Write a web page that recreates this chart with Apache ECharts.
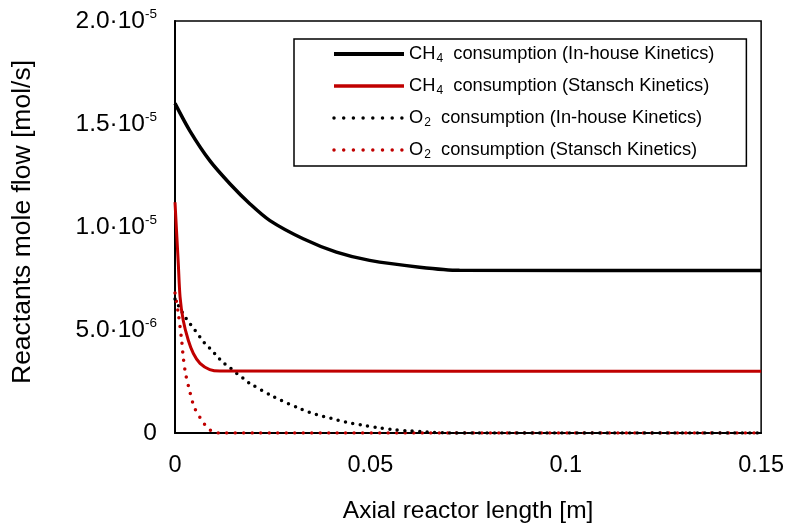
<!DOCTYPE html>
<html>
<head>
<meta charset="utf-8">
<script src="https://cdn.jsdelivr.net/npm/echarts@6/dist/echarts.min.js"></script>
<style>
  html, body { margin: 0; padding: 0; background: #fff; }
  #chart { width: 787px; height: 530px; }
</style>
</head>
<body>
<div id="chart"></div>
<script>
// ---- data ----
const seriesNames = [
  'CH4 consumption (In-house Kinetics)',
  'CH4 consumption (Stansch Kinetics)',
  'O2 consumption (In-house Kinetics)',
  'O2 consumption (Stansch Kinetics)'
];

const ch4InHouseX = [0, 0.0038, 0.0089, 0.0141, 0.0192, 0.0243, 0.0328, 0.0413, 0.0498, 0.0626, 0.0728, 0.15];
const ch4InHouseY = [1.60e-5, 1.467e-5, 1.322e-5, 1.209e-5, 1.112e-5, 1.031e-5, 9.43e-6, 8.78e-6, 8.38e-6, 8.05e-6, 7.90e-6, 7.89e-6];

const ch4StanschX = [0, 0.00085, 0.0013, 0.0021, 0.0034, 0.0047, 0.0064, 0.0089, 0.0115, 0.15];
const ch4StanschY = [1.12e-5, 8.2e-6, 6.6e-6, 5.47e-6, 4.5e-6, 3.86e-6, 3.38e-6, 3.08e-6, 3.01e-6, 3.0e-6];

const o2InHouseX = [0, 0.0013, 0.0026, 0.0038, 0.0051, 0.0064, 0.0077, 0.0094, 0.0107, 0.0123, 0.0141, 0.0158, 0.0175, 0.0189, 0.025, 0.0324, 0.0362, 0.040, 0.0439, 0.0477, 0.052, 0.0558, 0.060, 0.0643, 0.0703, 0.15];
const o2InHouseY = [6.5e-6, 6.04e-6, 5.63e-6, 5.31e-6, 4.99e-6, 4.66e-6, 4.34e-6, 4.02e-6, 3.74e-6, 3.42e-6, 3.16e-6, 2.89e-6, 2.65e-6, 2.44e-6, 1.78e-6, 1.15e-6, 0.9e-6, 0.71e-6, 0.52e-6, 0.39e-6, 0.26e-6, 0.16e-6, 0.1e-6, 0.05e-6, 0, 0];

const o2StanschX = [0, 0.00085, 0.0017, 0.0021, 0.0027, 0.0037, 0.0049, 0.0068, 0.0085, 0.0106, 0.15];
const o2StanschY = [6.8e-6, 5.8e-6, 4.5e-6, 3.7e-6, 2.89e-6, 2.08e-6, 1.27e-6, 0.63e-6, 0.23e-6, 0, 0];

const xTicks = [0, 0.05, 0.1, 0.15];
const xTickLabels = ['0', '0.05', '0.1', '0.15'];
const yTicks = [0, 5e-6, 1e-5, 1.5e-5, 2e-5];
const yTickBase = ['0', '5.0\u00b710', '1.0\u00b710', '1.5\u00b710', '2.0\u00b710'];
const yTickExp = ['', '-6', '-5', '-5', '-5'];

const xTitle = 'Axial reactor length [m]';
const yTitle = 'Reactants mole flow [mol/s]';

// ---- build ----
function pairs(xs, ys) { return xs.map((x, i) => [x, ys[i]]); }
const FONT = 'Liberation Sans, Arial, sans-serif';
const RED = '#C00000';

function idxOf(arr, v) {
  let best = 0;
  for (let i = 1; i < arr.length; i++) if (Math.abs(arr[i] - v) < Math.abs(arr[best] - v)) best = i;
  return best;
}

const styles = [
  { color: '#000', width: 3.5, type: 'solid', cap: 'butt' },
  { color: RED, width: 3, type: 'solid', cap: 'butt' },
  { color: '#000', width: 3.5, type: [0, 7.5], cap: 'round' },
  { color: RED, width: 3.5, type: [0, 8.5], cap: 'round' }
];
const legendLineStyles = [
  { color: '#000', width: 4, type: 'solid', cap: 'butt' },
  { color: RED, width: 3.5, type: 'solid', cap: 'butt' },
  { color: '#000', width: 3.5, type: [0, 9.7], cap: 'round' },
  { color: RED, width: 3.5, type: [0, 9.7], cap: 'round' }
];
const datas = [
  pairs(ch4InHouseX, ch4InHouseY),
  pairs(ch4StanschX, ch4StanschY),
  pairs(o2InHouseX, o2InHouseY),
  pairs(o2StanschX, o2StanschY)
];

const series = seriesNames.map((name, i) => ({
  name: name,
  type: 'line',
  data: datas[i],
  symbol: 'none',
  showSymbol: false,
  smooth: 0.3,
  z: 10 - i,
  itemStyle: { color: styles[i].color },
  lineStyle: styles[i]
}));

const chart = echarts.init(document.getElementById('chart'), null, { renderer: 'canvas' });
chart.setOption({
  animation: false,
  backgroundColor: '#fff',
  textStyle: { fontFamily: FONT },
  grid: {
    left: 175, right: 25, top: 21, bottom: 97,
    show: true, borderColor: '#000', borderWidth: 1.5, backgroundColor: 'transparent'
  },
  legend: {
    orient: 'vertical',
    left: 294, top: 39,
    padding: [6, 32, 5, 38],
    itemGap: 12,
    itemWidth: 70,
    itemHeight: 14,
    borderColor: '#000',
    borderWidth: 1.5,
    backgroundColor: '#fff',
    itemStyle: { opacity: 0 },
    data: seriesNames.map((n, i) => ({ name: n, lineStyle: legendLineStyles[i], itemStyle: { opacity: 0 } })),
    formatter: function (name) {
      const m = name.match(/^(CH|O)(\d)(.*)$/);
      return '{m|' + m[1] + '}{s|' + m[2] + '}{m| ' + m[3] + '}';
    },
    textStyle: {
      fontFamily: FONT,
      color: '#000',
      rich: {
        m: { fontSize: 18.3, fontFamily: FONT, color: '#000' },
        s: { fontSize: 12, fontFamily: FONT, color: '#000', padding: [10, 0, 0, 1] }
      }
    }
  },
  xAxis: {
    type: 'value',
    min: 0, max: 0.15, interval: 0.05,
    name: xTitle,
    nameLocation: 'middle',
    nameGap: 66,
    nameTextStyle: { fontSize: 24.5, fontFamily: FONT, color: '#000' },
    axisLine: { show: true, lineStyle: { color: '#000', width: 2 } },
    axisTick: { show: false },
    splitLine: { show: false },
    axisLabel: {
      margin: 21,
      fontSize: 23.5, fontFamily: FONT, color: '#000',
      formatter: v => xTickLabels[idxOf(xTicks, v)]
    }
  },
  yAxis: {
    type: 'value',
    min: 0, max: 2e-5, interval: 5e-6,
    name: yTitle,
    nameLocation: 'middle',
    nameGap: 139,
    nameTextStyle: { fontSize: 26.5, fontFamily: FONT, color: '#000', padding: [0, 0, 0, 10] },
    axisLine: { show: true, lineStyle: { color: '#000', width: 2 } },
    axisTick: { show: false },
    splitLine: { show: false },
    axisLabel: {
      margin: 18,
      fontFamily: FONT, color: '#000',
      formatter: function (v) {
        const i = idxOf(yTicks, v);
        if (!yTickExp[i]) return '{b|' + yTickBase[i] + '}';
        return '{b|' + yTickBase[i] + '}{e|' + yTickExp[i] + '}';
      },
      rich: {
        b: { fontSize: 24.5, fontFamily: FONT, color: '#000' },
        e: { fontSize: 13.5, fontFamily: FONT, color: '#000', padding: [0, 0, 13, 0] }
      }
    }
  },
  series: series
});
</script>
</body>
</html>
